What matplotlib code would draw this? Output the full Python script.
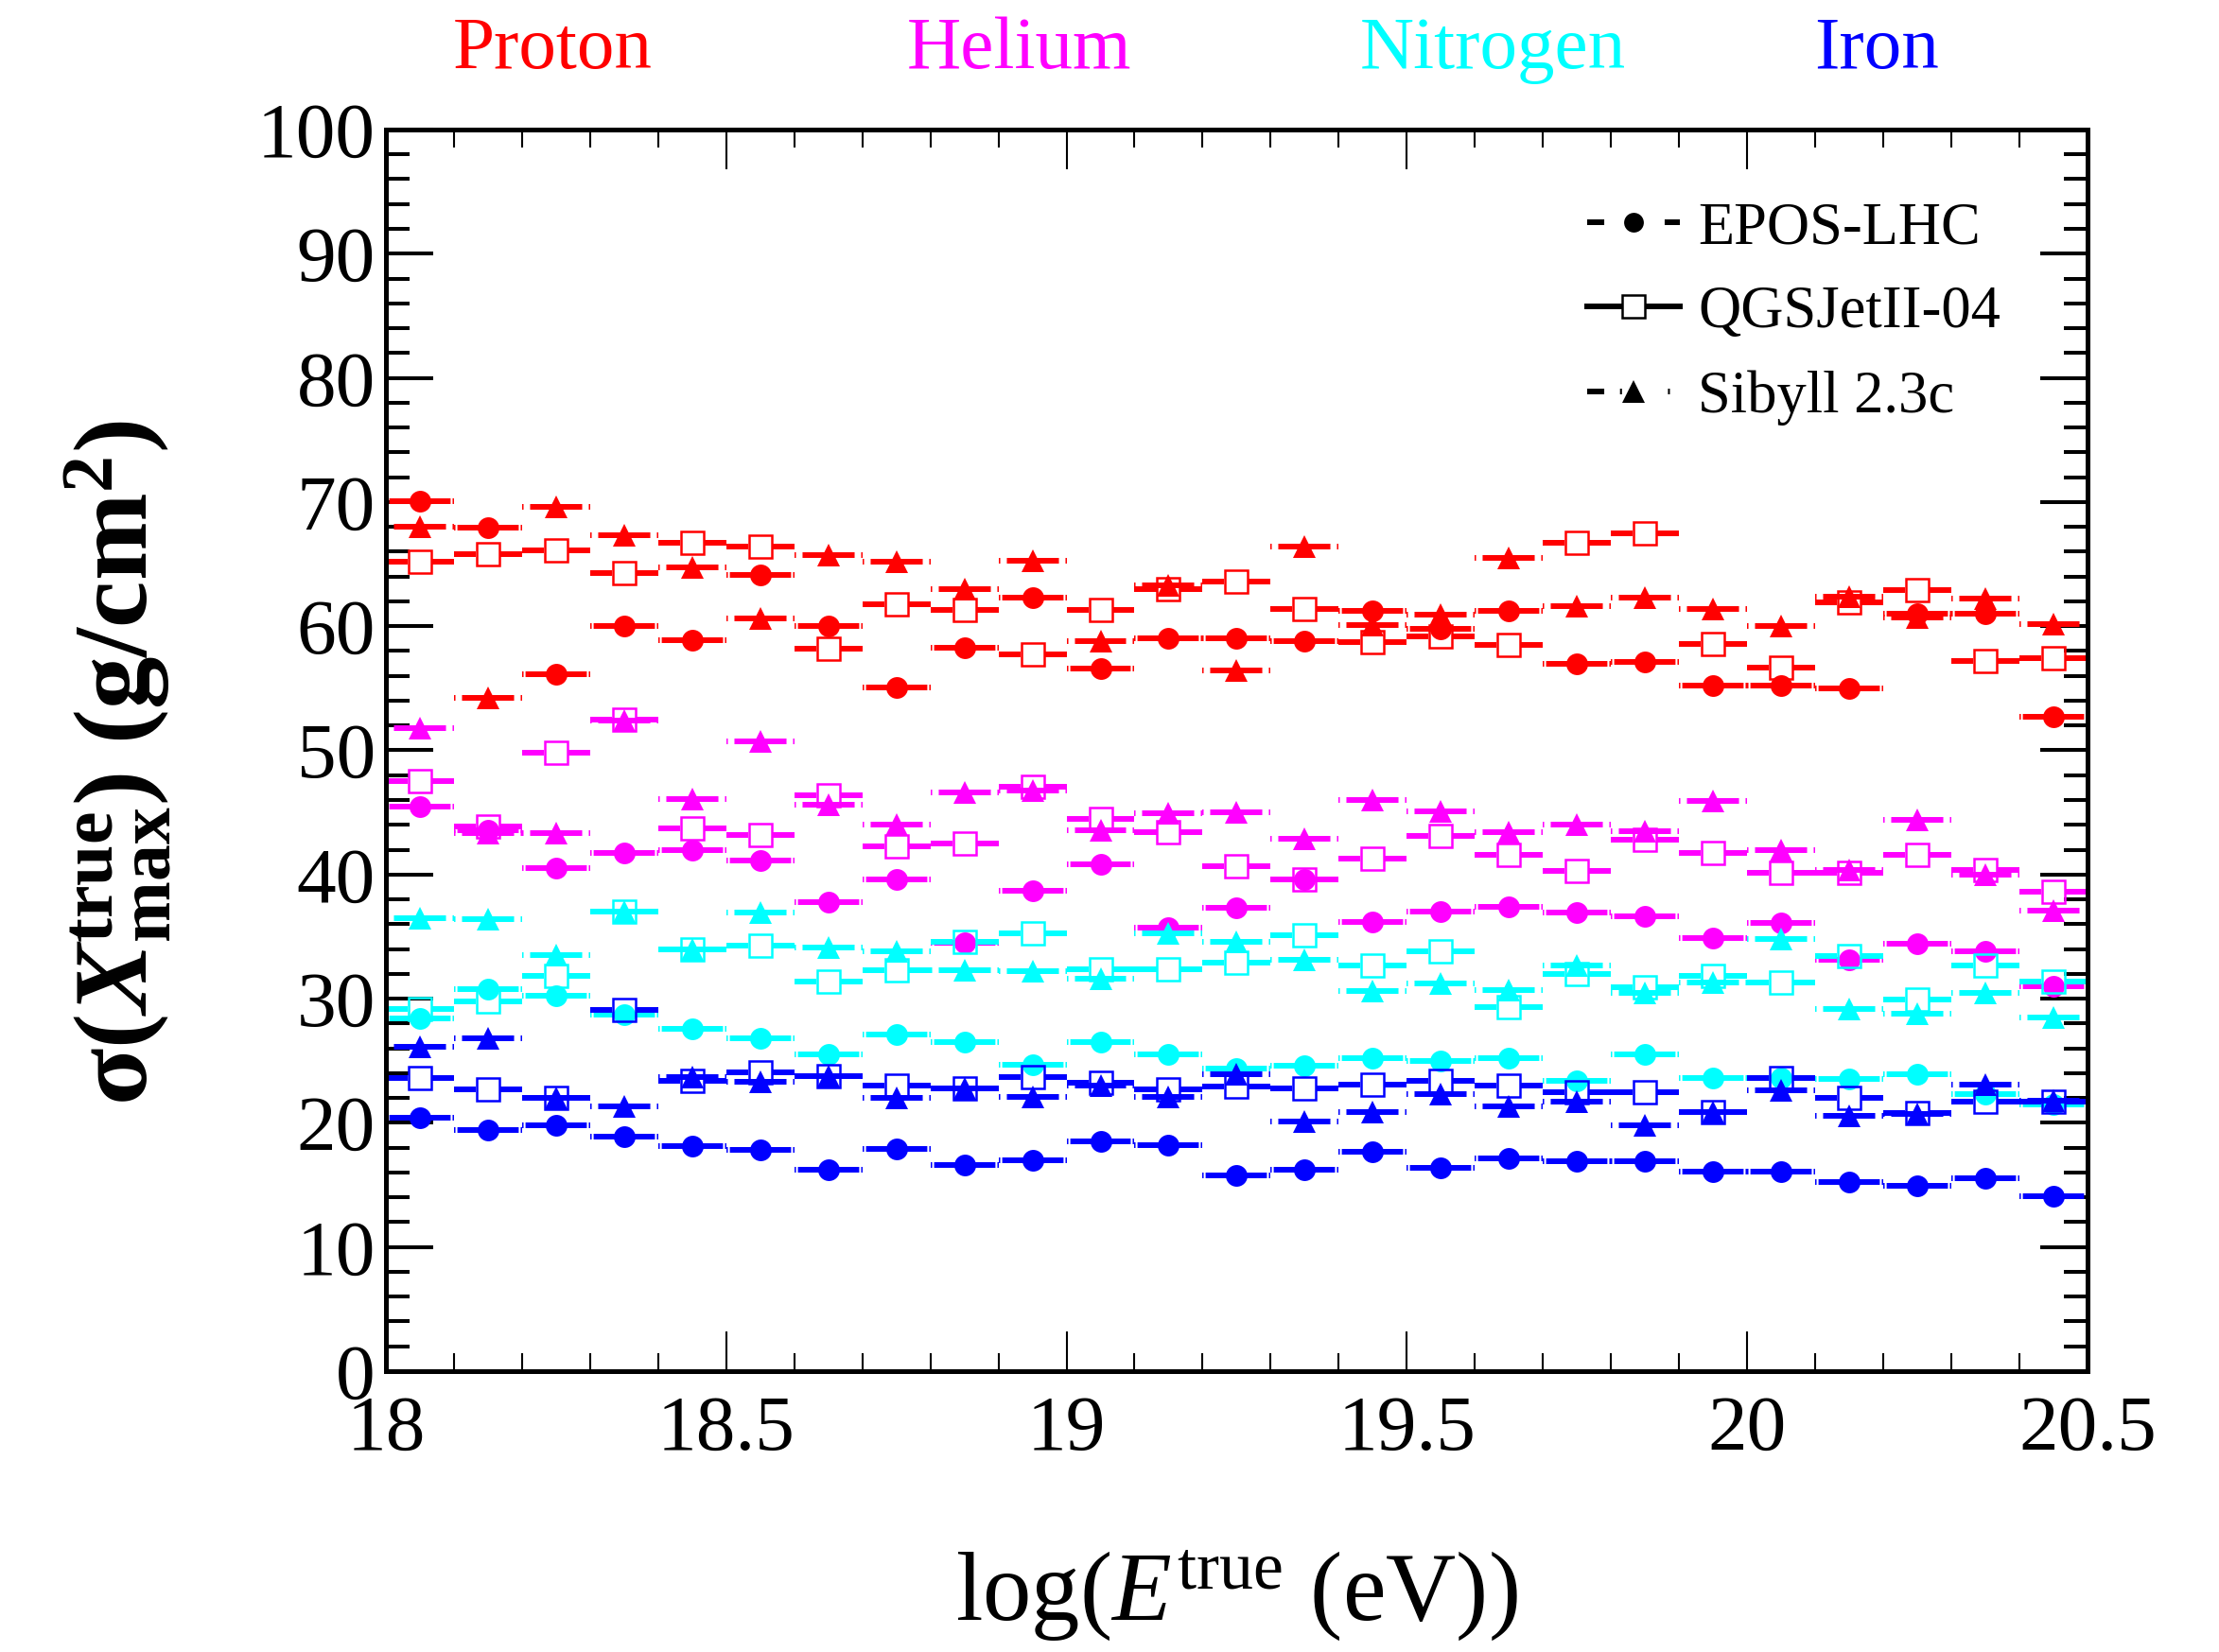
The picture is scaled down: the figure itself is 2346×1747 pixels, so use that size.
import matplotlib
matplotlib.use('Agg')
import matplotlib.pyplot as plt
from matplotlib.lines import Line2D
from matplotlib.ticker import MultipleLocator, FuncFormatter

plt.rcParams['font.family'] = ['Liberation Serif', 'DejaVu Serif']
plt.rcParams['mathtext.fontset'] = 'custom'
plt.rcParams['mathtext.rm'] = 'Liberation Serif'
plt.rcParams['mathtext.it'] = 'Liberation Serif:italic'
plt.rcParams['mathtext.bf'] = 'Liberation Serif:bold'
plt.rcParams['mathtext.bfit'] = 'Liberation Serif:italic:bold'
plt.rcParams['lines.scale_dashes'] = False

# bin centres of log(E/eV), bin width 0.1
log_e = [18.05, 18.15, 18.25, 18.35, 18.45, 18.55, 18.65, 18.75, 18.85, 18.95,
         19.05, 19.15, 19.25, 19.35, 19.45, 19.55, 19.65, 19.75, 19.85, 19.95,
         20.05, 20.15, 20.25, 20.35, 20.45]
half_bin = 0.05

proton_epos = [70.1, 67.9, 56.1, 60.0, 58.9, 64.1, 60.0, 55.1, 58.3, 62.3, 56.6, 59.0, 59.0,
               58.8, 61.2, 59.8, 61.2, 57.0, 57.1, 55.2, 55.2, 55.0, 61.0, 61.0, 52.7]
proton_qgs = [65.2, 65.8, 66.1, 64.3, 66.7, 66.4, 58.2, 61.8, 61.3, 57.7, 61.3, 63.0, 63.6,
              61.4, 58.7, 59.2, 58.5, 66.7, 67.5, 58.6, 56.7, 61.9, 62.9, 57.2, 57.4]
proton_sib = [68.0, 54.2, 69.6, 67.3, 64.7, 60.6, 65.7, 65.2, 63.0, 65.3, 58.8, 63.3, 56.4,
              66.4, 60.1, 60.9, 65.5, 61.6, 62.3, 61.4, 60.0, 62.4, 60.7, 62.2, 60.2]

helium_epos = [45.5, 43.6, 40.5, 41.7, 42.0, 41.1, 37.8, 39.6, 34.5, 38.7, 40.8, 35.7, 37.3,
               39.6, 36.2, 37.0, 37.4, 36.9, 36.6, 34.9, 36.1, 33.1, 34.4, 33.8, 31.0]
helium_qgs = [47.5, 43.9, 49.8, 52.5, 43.7, 43.2, 46.4, 42.3, 42.5, 47.1, 44.5, 43.4, 40.7,
              39.6, 41.3, 43.1, 41.6, 40.3, 42.8, 41.7, 40.1, 40.1, 41.6, 40.4, 38.6]
helium_sib = [51.8, 43.3, 43.3, 52.4, 46.1, 50.7, 45.6, 44.0, 46.6, 46.8, 43.6, 44.9, 45.0,
              42.9, 46.0, 45.1, 43.4, 44.0, 43.5, 45.9, 42.0, 40.4, 44.4, 40.0, 37.1]

nitrogen_epos = [28.4, 30.8, 30.2, 28.7, 27.6, 26.8, 25.5, 27.1, 26.5, 24.7, 26.5, 25.5, 24.4,
                 24.6, 25.2, 25.0, 25.2, 23.4, 25.5, 23.6, 23.6, 23.5, 23.9, 22.3, 21.5]
nitrogen_qgs = [29.2, 29.8, 31.8, 37.0, 34.0, 34.3, 31.4, 32.3, 34.6, 35.3, 32.4, 32.4, 32.9,
                35.1, 32.7, 33.8, 29.3, 32.0, 30.9, 31.8, 31.3, 33.4, 29.9, 32.7, 31.4]
nitrogen_sib = [36.5, 36.4, 33.5, 37.0, 34.0, 36.9, 34.1, 33.8, 32.3, 32.2, 31.6, 35.3, 34.6,
                33.1, 30.6, 31.2, 30.7, 32.7, 30.5, 31.3, 34.8, 29.2, 28.8, 30.5, 28.5]

iron_epos = [20.4, 19.4, 19.8, 18.9, 18.1, 17.8, 16.2, 17.9, 16.6, 17.0, 18.5, 18.2, 15.8,
             16.2, 17.7, 16.4, 17.1, 16.9, 16.9, 16.1, 16.1, 15.2, 14.9, 15.5, 14.1]
iron_qgs = [23.6, 22.7, 22.0, 29.1, 23.4, 24.1, 23.8, 23.0, 22.8, 23.7, 23.2, 22.7, 22.9,
            22.8, 23.1, 23.4, 23.0, 22.5, 22.5, 20.9, 23.6, 22.0, 20.8, 21.7, 21.7]
iron_sib = [26.1, 26.8, 22.0, 21.3, 23.7, 23.3, 23.8, 22.0, 22.8, 22.1, 23.0, 22.1, 23.9,
            20.1, 20.9, 22.3, 21.3, 21.7, 19.8, 20.9, 22.6, 20.6, 20.7, 23.1, 21.8]

species = ['Proton', 'Helium', 'Nitrogen', 'Iron']
colors = ['#ff0000', '#ff00ff', '#00ffff', '#0000ff']
models = ['EPOS-LHC', 'QGSJetII-04', 'Sibyll 2.3c']
data = [(proton_epos, proton_qgs, proton_sib),
        (helium_epos, helium_qgs, helium_sib),
        (nitrogen_epos, nitrogen_qgs, nitrogen_sib),
        (iron_epos, iron_qgs, iron_sib)]

lw = 4.3
epos_ls = (0, (1.1, 1.5, 300, 1))
sib_ls = (0, (1.1, 5.0, 300, 1))
qgs_gap = 0.018   # open square leaves the bar interrupted


def main():
    fig = plt.figure(figsize=(23.46, 17.47), dpi=100)
    ax = fig.add_axes([0.1739, 0.170, 0.7668, 0.7516])

    lo = [x - half_bin for x in log_e]
    hi = [x + half_bin for x in log_e]
    for col, (epos, qgs, sib) in zip(colors, data):
        # QGSJet: solid bars, open squares
        ax.hlines(qgs, lo, [x - qgs_gap for x in log_e], colors=col, linewidth=lw)
        ax.hlines(qgs, hi, [x + qgs_gap for x in log_e], colors=col, linewidth=lw)
        ax.plot(log_e, qgs, 's', ms=17, mfc='none', mec=col, mew=1.8)
        # EPOS: dashed bars, full circles
        ax.hlines(epos, lo, log_e, colors=col, linewidth=lw, linestyles=[epos_ls])
        ax.hlines(epos, hi, log_e, colors=col, linewidth=lw, linestyles=[epos_ls])
        ax.plot(log_e, epos, 'o', ms=16.5, color=col, mew=0)
        # Sibyll: dash-dot bars, full triangles
        ax.hlines(sib, lo, log_e, colors=col, linewidth=lw, linestyles=[sib_ls])
        ax.hlines(sib, hi, log_e, colors=col, linewidth=lw, linestyles=[sib_ls])
        ax.plot(log_e, sib, '^', ms=17.5, color=col, mew=0)

    ax.set_xlim(18, 20.5)
    ax.set_ylim(0, 100)
    ax.xaxis.set_major_locator(MultipleLocator(0.5))
    ax.xaxis.set_minor_locator(MultipleLocator(0.1))
    ax.yaxis.set_major_locator(MultipleLocator(10))
    ax.yaxis.set_minor_locator(MultipleLocator(2))
    ax.xaxis.set_major_formatter(FuncFormatter(lambda v, p: '%g' % v))
    ax.yaxis.set_major_formatter(FuncFormatter(lambda v, p: '%g' % v))
    ax.tick_params(which='both', direction='in', top=True, right=True)
    ax.tick_params(axis='x', which='major', length=30, width=1.5, labelsize=60, pad=18)
    ax.tick_params(axis='x', which='minor', length=14, width=1.5)
    ax.tick_params(axis='y', which='major', length=36, width=2.9, labelsize=60, pad=8)
    ax.tick_params(axis='y', which='minor', length=18, width=2.9)
    for s in ax.spines.values():
        s.set_linewidth(3.6)

    ax.set_xlabel(r'log($E^{\mathrm{true}}$ (eV))', fontsize=74)
    ax.xaxis.set_label_coords(0.5, -0.143)
    ax.set_ylabel('σ(' + r'$\mathbfit{X}^{\mathbf{true}}_{\mathbf{max}}$' + ') (g/cm'
                  + r'$^{\mathbf{2}}$' + ')', fontsize=80, fontweight='bold')
    ax.yaxis.set_label_coords(-0.125, 0.49)

    for name, col, xf in zip(species, colors, [0.249, 0.4595, 0.6726, 0.8457]):
        fig.text(xf, 0.9588, name, color=col, fontsize=57, ha='center', va='baseline')

    handles = [
        Line2D([], [], color='k', lw=lw, marker='o', ms=15, mew=0, linestyle=(0, (13, 46))),
        Line2D([], [], color='k', lw=lw, marker='s', ms=17, mfc='white', mew=1.8),
        Line2D([], [], color='k', lw=lw, marker='^', ms=17, mew=0,
               linestyle=(0, (13, 12, 1.5, 35, 1.5, 10))),
    ]
    ax.legend(handles, models, loc='upper left', bbox_to_anchor=(1678 / 2346, 1 - 213 / 1747),
              bbox_transform=fig.transFigure, frameon=False, fontsize=45,
              handlelength=1.56, handletextpad=0.31, labelspacing=0.5,
              borderpad=0, borderaxespad=0)

    fig.savefig('out.png', dpi=100)


if __name__ == '__main__':
    main()
